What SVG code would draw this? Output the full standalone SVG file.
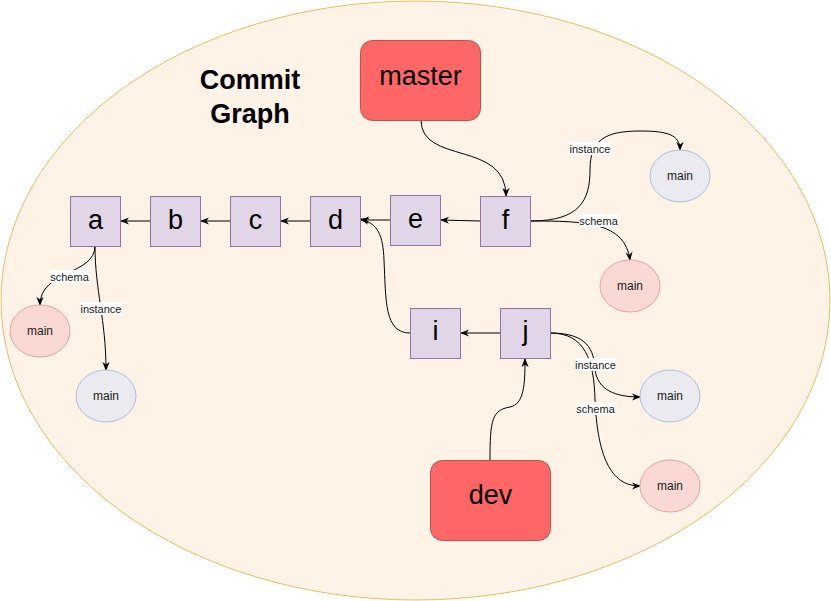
<svg xmlns="http://www.w3.org/2000/svg" width="831" height="601" viewBox="0 0 831 601">
<defs>
<style>
.sq{fill:#e1d5e7;stroke:#9673a6;stroke-width:1}
.br{fill:#ff6666;stroke:#b85450;stroke-width:1}
.pk{fill:#fad9d5;stroke:#e3a59e;stroke-width:1}
.gr{fill:#eaeaf0;stroke:#a9bfdc;stroke-width:1}
.big{font-family:"Liberation Sans",Arial,sans-serif;font-size:27px;fill:#000;text-anchor:middle}
.ttl{font-family:"Liberation Sans",Arial,sans-serif;font-size:27px;font-weight:bold;fill:#000;text-anchor:middle}
.mn{font-family:"Liberation Sans",Arial,sans-serif;font-size:12px;fill:#1a1a1a;text-anchor:middle}
.lb{font-family:"Liberation Sans",Arial,sans-serif;font-size:11px;fill:#1a1a1a;text-anchor:middle}
.lbg{fill:#ffffff}
.ed{fill:none;stroke:#000;stroke-width:1;marker-end:url(#arr)}
</style>
<marker id="arr" viewBox="0 0 10 10" refX="9" refY="5" markerWidth="9" markerHeight="9" orient="auto" markerUnits="userSpaceOnUse">
<path d="M0,1 L10,5 L0,9 L3,5 z" fill="#000"/>
</marker>
</defs>
<ellipse cx="415.5" cy="300.5" rx="414.5" ry="299.5" fill="#fff2e6" stroke="#e2c067" stroke-width="1"/>
<g id="title">
<text class="ttl" x="250" y="89">Commit</text>
<text class="ttl" x="250" y="123">Graph</text>
</g>
<g id="connectors">
<path class="ed" d="M150 221 L121 221"/>
<path class="ed" d="M230 221 L201 221"/>
<path class="ed" d="M310 221 L281 221"/>
<path class="ed" d="M390 220 L361 220"/>
<path class="ed" d="M480 221 L441 220"/>
<path class="ed" d="M500 333 L461 333"/>
<path class="ed" d="M421 120 C421 165 506 140 506 196"/>
<path class="ed" d="M410 333 C384 333 386 300 384 260 C383 235 378 224 361 219"/>
<path class="ed" d="M490 460 C490 420 492 410 510 407 C524 404 525 385 525 359"/>
<path class="ed" d="M531 221 C580 221 590 200 590 170 C590 140 605 131 640 131 C668 131 680 135 680 150"/>
<path class="ed" d="M531 221 C585 221 625 222 630 260"/>
<path class="ed" d="M95 246 C95 275 40 270 40 305"/>
<path class="ed" d="M95 246 C95 290 106 320 106 370"/>
<path class="ed" d="M550 333 C588 333 594 350 595 370 C598 390 615 397 640 397"/>
<path class="ed" d="M550 333 C585 333 594 360 595 400 C598 470 618 486 640 486"/>
<rect class="lbg" x="569.5" y="142" width="41" height="13"/>
<text class="lb" x="590" y="152.5">instance</text>
<rect class="lbg" x="579" y="214" width="39" height="13"/>
<text class="lb" x="598.5" y="224.5">schema</text>
<rect class="lbg" x="50" y="270" width="39" height="13"/>
<text class="lb" x="69.5" y="280.5">schema</text>
<rect class="lbg" x="80.5" y="302" width="41" height="13"/>
<text class="lb" x="101" y="312.5">instance</text>
<rect class="lbg" x="575" y="358" width="41" height="13"/>
<text class="lb" x="595.5" y="368.5">instance</text>
<rect class="lbg" x="576" y="402" width="39" height="13"/>
<text class="lb" x="595.5" y="412.5">schema</text>
</g>
<g id="master"><rect class="br" x="360.5" y="40.5" width="120" height="80" rx="12"/><text class="big" x="420.5" y="85">master</text></g>
<g id="dev"><rect class="br" x="430.5" y="460.5" width="120" height="80" rx="12"/><text class="big" x="490.5" y="504">dev</text></g>
<g id="a"><rect class="sq" x="70.5" y="196.5" width="50" height="50"/><text class="big" x="95.5" y="229">a</text></g>
<g id="b"><rect class="sq" x="150.5" y="196.5" width="50" height="50"/><text class="big" x="175.5" y="229">b</text></g>
<g id="c"><rect class="sq" x="230.5" y="196.5" width="50" height="50"/><text class="big" x="255.5" y="229">c</text></g>
<g id="d"><rect class="sq" x="310.5" y="196.5" width="50" height="50"/><text class="big" x="335.5" y="229">d</text></g>
<g id="e"><rect class="sq" x="390.5" y="195.5" width="50" height="50"/><text class="big" x="415.5" y="228">e</text></g>
<g id="f"><rect class="sq" x="480.5" y="196.5" width="50" height="50"/><text class="big" x="505.5" y="229">f</text></g>
<g id="i"><rect class="sq" x="410.5" y="308.5" width="50" height="50"/><text class="big" x="435.5" y="340">i</text></g>
<g id="j"><rect class="sq" x="500.5" y="308.5" width="50" height="50"/><text class="big" x="525.5" y="340">j</text></g>
<g id="f-instance"><ellipse class="gr" cx="680" cy="176" rx="30" ry="26"/><text class="mn" x="680" y="180">main</text></g>
<g id="f-schema"><ellipse class="pk" cx="630" cy="286" rx="30" ry="26"/><text class="mn" x="630" y="290">main</text></g>
<g id="a-schema"><ellipse class="pk" cx="40" cy="331" rx="30" ry="26"/><text class="mn" x="40" y="335">main</text></g>
<g id="a-instance"><ellipse class="gr" cx="106" cy="396" rx="30" ry="26"/><text class="mn" x="106" y="400">main</text></g>
<g id="j-instance"><ellipse class="gr" cx="670" cy="396" rx="30" ry="26"/><text class="mn" x="670" y="400">main</text></g>
<g id="j-schema"><ellipse class="pk" cx="670" cy="486" rx="30" ry="26"/><text class="mn" x="670" y="490">main</text></g>
</svg>
